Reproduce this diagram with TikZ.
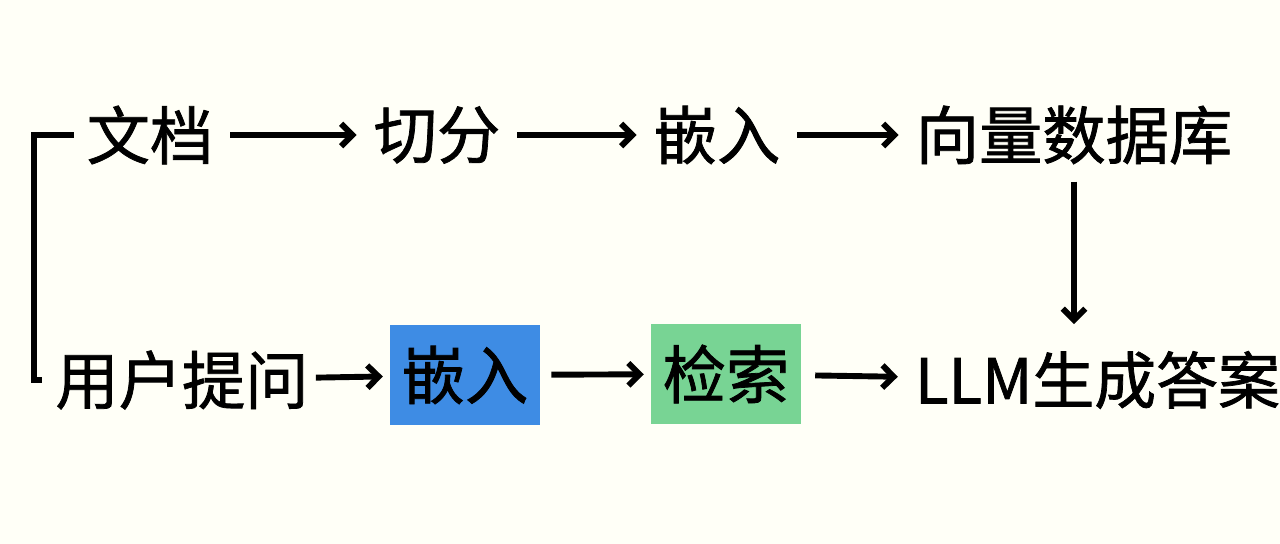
\documentclass[tikz,border=0pt]{standalone}
\usepackage{fontspec}
\setmainfont{Noto Sans CJK SC}[FakeBold=1.2]
\usetikzlibrary{arrows.meta}
\definecolor{boxblue}{RGB}{62,140,228}
\definecolor{boxgreen}{RGB}{120,212,148}

\begin{document}
\begin{tikzpicture}[x=0.025cm,y=-0.025cm,line width=4.2pt,>={Straight Barb[length=8pt,width=16pt]},shorten >=3pt,shorten <=3pt]
\tikzstyle{word}=[inner sep=0.25cm,font=\fontsize{45}{50}\selectfont]
\tikzstyle{hl}=[word,inner sep=0pt,minimum width=3.75cm,minimum height=2.5cm,fill=#1]
\useasboundingbox (0,0) rectangle (1280,544);
\fill[yellow!3] (0,0) rectangle (1280,544);

\node[word](doc) at (150,135) {文档};
\node[word](split) at (437,135) {切分};
\node[word](emb) at (717,135) {嵌入};
\node[word](db) at (1074,135) {向量数据库};

\node[word](ask) at (182,380) {用户提问};
\node[hl=boxblue](qemb) at (465,375) {嵌入};
\node[hl=boxgreen](find) at (726,374) {检索};
\node[word,anchor=west,font=\fontsize{44}{50}\selectfont](llm) at (902,380) {LLM生成答案};

\draw[->] (doc) -- (split);
\draw[->] (split) -- (emb);
\draw[->] (emb) -- (db);
\draw[->,shorten >=10pt] (db.south) -- (db.south |- llm.north);

\draw[->,shorten <=-4pt] (ask) -- (qemb);
\draw[->,shorten <=6pt] (qemb) -- (find);
\draw[->,shorten <=8pt] (find) -- (llm);

\draw[shorten >=0pt,shorten <=0pt] (doc.west) -- ++(-40,0) |- (ask.west);
\end{tikzpicture}
\end{document}
